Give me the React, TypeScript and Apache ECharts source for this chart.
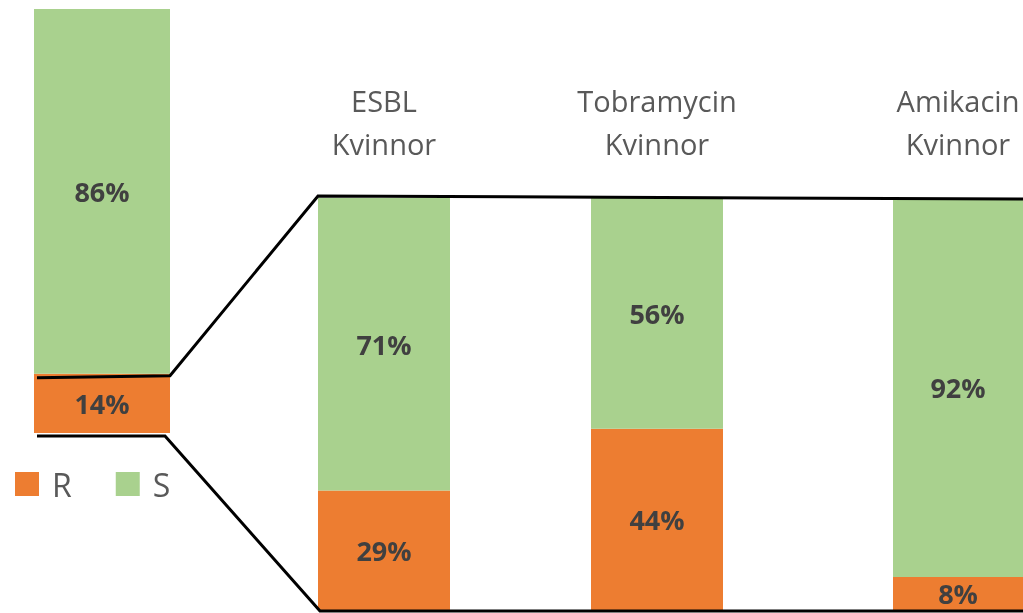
import React, { useEffect, useRef } from "react";
import * as echarts from "echarts";

const overallCategory = ["Totalt"];
const overallR = [14];
const overallS = [86];

const subCategories = ["ESBL\nKvinnor", "Tobramycin\nKvinnor", "Amikacin\nKvinnor"];
const subR = [29, 44, 8];
const subS = [71, 56, 92];

const ORANGE = "#ED7D31";
const GREEN = "#A9D18E";
const TEXT = "#404040";
const FONT = "'Open Sans', 'Noto Sans', sans-serif";

const leftGrid = { left: 34, top: 9, width: 136, height: 424 };
const subLefts = [318, 591, 893];
const subGrid = { top: 198, width: 132, height: 412 };

export default function App() {
  const ref = useRef<HTMLDivElement>(null);
  useEffect(() => {
    if (!ref.current) return;
    const chart = echarts.init(ref.current, undefined, { renderer: "svg" });
    const grids: any[] = [{ ...leftGrid }];
    subLefts.forEach((l) => grids.push({ left: l, top: subGrid.top, width: subGrid.width, height: subGrid.height }));

    const xAxes: any[] = [
      { type: "category", gridIndex: 0, data: overallCategory, show: false },
    ];
    const yAxes: any[] = [{ type: "value", gridIndex: 0, min: 0, max: 100, show: false }];
    subCategories.forEach((c, i) => {
      xAxes.push({
        type: "category",
        gridIndex: i + 1,
        data: [c],
        position: "top",
        axisLine: { show: false },
        axisTick: { show: false },
        axisLabel: { margin: 33, fontSize: 29, lineHeight: 43, color: "#595959", fontFamily: FONT, interval: 0 },
      });
      yAxes.push({ type: "value", gridIndex: i + 1, min: 0, max: 100, show: false });
    });

    const label = {
      show: true,
      position: "inside",
      fontSize: 27,
      fontWeight: "bold",
      color: TEXT,
      fontFamily: FONT,
      formatter: (p: any) => p.value + "%",
    };

    const series: any[] = [
      { name: "R", type: "bar", stack: "t0", xAxisIndex: 0, yAxisIndex: 0, data: overallR, barWidth: "100%", itemStyle: { color: ORANGE }, label },
      { name: "S", type: "bar", stack: "t0", xAxisIndex: 0, yAxisIndex: 0, data: overallS, barWidth: "100%", itemStyle: { color: GREEN }, label },
    ];
    subCategories.forEach((_, i) => {
      series.push({ name: "R", type: "bar", stack: "s" + i, xAxisIndex: i + 1, yAxisIndex: i + 1, data: [subR[i]], barWidth: "100%", itemStyle: { color: ORANGE }, label });
      series.push({ name: "S", type: "bar", stack: "s" + i, xAxisIndex: i + 1, yAxisIndex: i + 1, data: [subS[i]], barWidth: "100%", itemStyle: { color: GREEN }, label });
    });

    chart.setOption({
      animation: false,
      grid: grids,
      xAxis: xAxes,
      yAxis: yAxes,
      series,
      legend: {
        data: ["R", "S"],
        left: 15,
        top: 468,
        padding: 0,
        icon: "rect",
        itemWidth: 24,
        itemHeight: 24,
        itemGap: 44,
        textStyle: { fontSize: 32, color: "#595959", fontFamily: FONT, padding: [0, 0, 0, 8] },
      },
    });

    const yBoundary = chart.convertToPixel({ yAxisIndex: 0 }, overallR[0]) as number;
    const yLeftBottom = chart.convertToPixel({ yAxisIndex: 0 }, 0) as number;
    const yTop = chart.convertToPixel({ yAxisIndex: 1 }, 100) as number;
    const yBottom = chart.convertToPixel({ yAxisIndex: 1 }, 0) as number;
    const lRight = leftGrid.left + leftGrid.width;
    const firstLeft = subLefts[0];
    const lineStyle = { stroke: "#000", lineWidth: 3, fill: null };

    chart.setOption({
      graphic: [
        {
          type: "polyline",
          z: 100,
          shape: {
            points: [
              [leftGrid.left + 3, yBoundary + 4],
              [lRight, yBoundary + 2],
              [firstLeft, yTop - 2],
              [1023, yTop + 1],
            ],
          },
          style: lineStyle,
        },
        {
          type: "polyline",
          z: 100,
          shape: {
            points: [
              [leftGrid.left + 3, yLeftBottom + 3],
              [lRight - 5, yLeftBottom + 3],
              [firstLeft + 2, yBottom + 1],
              [1023, yBottom + 1],
            ],
          },
          style: lineStyle,
        },
      ],
    });

    return () => chart.dispose();
  }, []);
  return <div ref={ref} style={{ position: "fixed", left: 0, top: 0, width: 1023, height: 613 }} />;
}
